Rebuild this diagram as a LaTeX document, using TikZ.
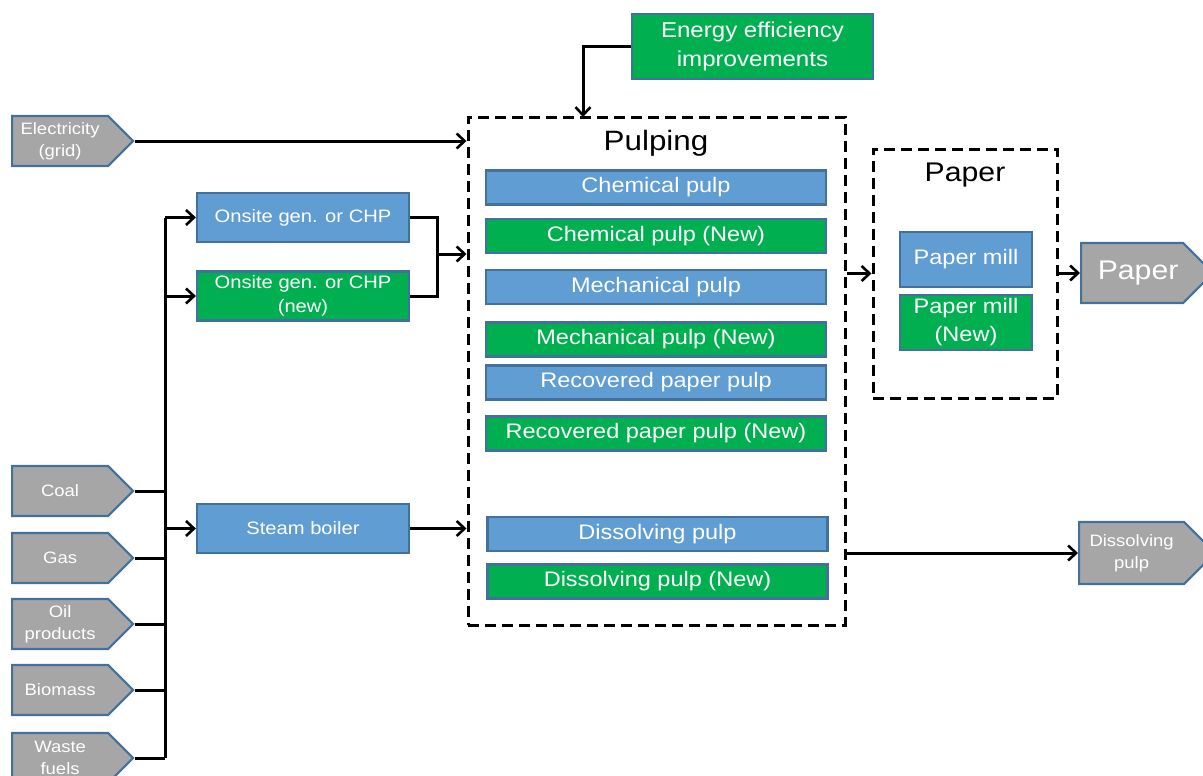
\documentclass[tikz,border=0pt]{standalone}
\usepackage{fontspec}
\setmainfont{Liberation Sans}[FakeStretch=1.12]
\usepackage{tikz}
\usetikzlibrary{shapes.symbols, arrows.meta, positioning, calc}
\definecolor{procblue}{RGB}{95, 157, 211}
\definecolor{newgreen}{RGB}{0, 176, 80}
\definecolor{fuelgray}{RGB}{166, 166, 166}
\definecolor{edgeblue}{RGB}{65, 113, 156}

\begin{document}
\begin{tikzpicture}[
    x=1pt, y=-1pt,
    proc/.style={rectangle, draw=edgeblue, line width=2.2pt, fill=procblue, text=white, align=center, inner sep=0pt},
    newproc/.style={proc, fill=newgreen},
    pulpbox/.style={minimum width=340pt, minimum height=34pt, font=\fontsize{21}{24}\selectfont},
    genbox/.style={minimum width=212pt, minimum height=49pt, font=\fontsize{18}{24}\selectfont},
    fuel/.style={signal, signal to=east, signal pointer angle=90, draw=edgeblue, line width=2.2pt, fill=fuelgray, text=white, align=center, inner sep=0pt, anchor=west, minimum width=121pt, minimum height=50pt, font=\fontsize{16.5}{22}\selectfont},
    group/.style={rectangle, draw, dash pattern=on 11pt off 6pt, line width=3pt, inner sep=0pt},
    arrow/.style={-{Straight Barb[length=8pt,width=15pt,line width=2.6pt]}, line width=3pt},
    link/.style={line width=3pt}
]
\useasboundingbox (0,0) rectangle (1203,776);

% energy inputs
\node[fuel] (elec) at (11,141) {Electricity\\(grid)};
\node[fuel] (coal) at (11,491) {Coal};
\node[fuel] (gas) at (11,558) {Gas};
\node[fuel] (oil) at (11,624) {Oil\\products};
\node[fuel] (bio) at (11,690) {Biomass};
\node[fuel] (waste) at (11,758) {Waste\\fuels};

% conversion
\node[proc, genbox] (chp) at (303,217.5) {Onsite gen. or CHP};
\node[newproc, genbox] (chpnew) at (303,296) {Onsite gen. or CHP\\(new)};
\node[proc, genbox] (steam) at (303,528.5) {Steam boiler};

\node[newproc, minimum width=241pt, minimum height=65pt, font=\fontsize{21.5}{29}\selectfont] (eff) at (752.5,46.5) {Energy efficiency\\improvements};

% pulping
\node[group, minimum width=377pt, minimum height=508pt] (pulping) at (656.5,371) {};
\node[font=\fontsize{28}{30}\selectfont] (pulptitle) at (656,143) {Pulping};
\node[proc, pulpbox] (chem) at (656,187.5) {Chemical pulp};
\node[newproc, pulpbox] (chemnew) at (656,236) {Chemical pulp (New)};
\node[proc, pulpbox] (mech) at (656,287) {Mechanical pulp};
\node[newproc, pulpbox] (mechnew) at (656,339.5) {Mechanical pulp (New)};
\node[proc, pulpbox] (recov) at (656,382.5) {Recovered paper pulp};
\node[newproc, pulpbox] (recovnew) at (656,433.5) {Recovered paper pulp (New)};
\node[proc, pulpbox] (diss) at (657.5,534) {Dissolving pulp};
\node[newproc, pulpbox] (dissnew) at (657.5,581.5) {Dissolving pulp (New)};

% paper
\node[group, minimum width=184pt, minimum height=249pt] (paper) at (965,273.5) {};
\node[font=\fontsize{27}{30}\selectfont] (papertitle) at (965,175) {Paper};
\node[proc, minimum width=132pt, minimum height=55pt, font=\fontsize{21}{28}\selectfont] (mill) at (966,259.5) {Paper mill};
\node[newproc, minimum width=132pt, minimum height=55pt, font=\fontsize{21}{28}\selectfont] (millnew) at (966,322.5) {Paper mill\\(New)};

% products
\node[fuel, minimum width=132pt, minimum height=60pt, font=\fontsize{27}{30}\selectfont] (paperout) at (1080,273) {\hspace{12pt}Paper};
\node[fuel, minimum width=136pt, minimum height=62pt] (dissout) at (1078,553) {Dissolving\\pulp};

% connectors
\coordinate (bustop) at (165,217.5);
\coordinate (chpjoin) at (437,254);
\coordinate (effin) at (583,117);

\draw[link] (bustop) -- (waste.east -| bustop);
\foreach \f in {coal, gas, oil, bio, waste}
    \draw[link] (\f.east) -- (\f.east -| bustop);
\draw[arrow] (chp.west -| bustop) -- (chp.west);
\draw[arrow] (chpnew.west -| bustop) -- (chpnew.west);
\draw[arrow] (steam.west -| bustop) -- (steam.west);

\draw[arrow] (elec.east) -- (elec.east -| pulping.west);
\draw[link] (chp.east) -| (chpjoin);
\draw[link] (chpnew.east) -| (chpjoin);
\draw[arrow] (chpjoin) -- (chpjoin -| pulping.west);
\draw[arrow] (steam.east) -- (steam.east -| pulping.west);
\draw[arrow] (eff.west) -| (effin);

\draw[arrow] (pulping.east |- paper.west) -- (paper.west);
\draw[arrow] (paper.east |- paperout.west) -- (paperout.west);
\draw[arrow] (pulping.east |- dissout.west) -- (dissout.west);

\end{tikzpicture}
\end{document}
